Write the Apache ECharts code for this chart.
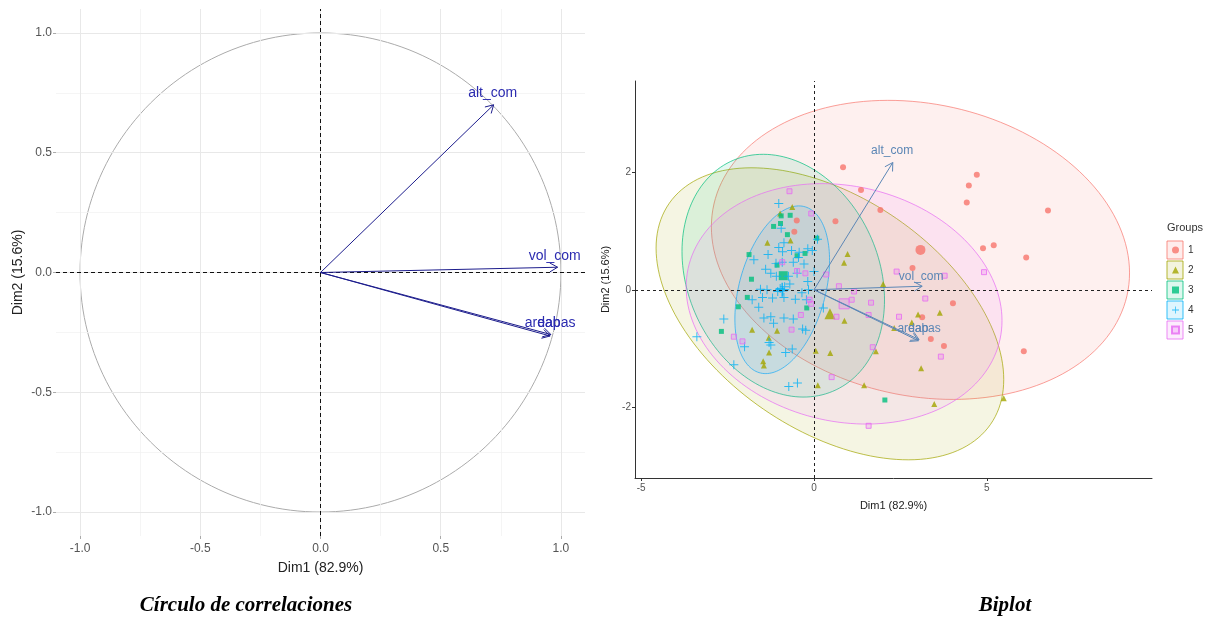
<!DOCTYPE html>
<html>
<head>
<meta charset="utf-8" />
<title>PCA</title>
<script src="https://cdn.jsdelivr.net/npm/echarts@6/dist/echarts.min.js"></script>
<style>
html, body { margin:0; padding:0; background:#fff; }
#main { width:1205px; height:633px; }
</style>
</head>
<body>
<div id="main"></div>
<script type="text/javascript">
// --- circulo de correlaciones
var varNames = ['alt_com', 'vol_com', 'areabas', 'dap'];
var corX = [0.72, 0.986, 0.958, 0.955];
var corY = [0.70, 0.022, -0.259, -0.265];
var corLabelX = [0.716, 0.974, 0.955, 0.950];
var corLabelY = [0.75, 0.069, -0.212, -0.212];
var corTicks = [-1, -0.5, 0, 0.5, 1];
var corMinor = [-0.75, -0.25, 0.25, 0.75];

// --- biplot
var bipX = [2.28, 3.13, 3.04, 3.02];
var bipY = [2.17, 0.06, -0.85, -0.87];
var bipLabelX = [2.26, 3.10, 3.04, 3.02];
var bipLabelY = [2.38, 0.22, -0.67, -0.67];
var bipTicksX = [-5, 0, 5];
var bipTicksY = [-2, 0, 2];

var groups = ['1', '2', '3', '4', '5'];
var g1 = [[0.84,2.09],[1.36,1.70],[1.92,1.36],[0.62,1.17],[-0.50,1.18],[-0.57,0.99],[4.71,1.96],[4.48,1.78],
  [4.42,1.49],[6.77,1.35],[4.89,0.71],[5.20,0.76],[6.14,0.55],[2.85,0.37],[4.02,-0.23],[3.13,-0.47],
  [3.38,-0.84],[3.76,-0.96],[6.07,-1.05]];
var g2 = [[-0.63,1.41],[-0.98,1.30],[-1.35,0.80],[-0.68,0.84],[0.97,0.61],[0.87,0.46],[2.00,0.10],[0.88,-0.53],
  [2.32,-0.65],[2.83,-0.56],[3.01,-0.42],[3.64,-0.39],[-1.79,-0.68],[-1.07,-0.70],[-1.31,-0.82],[-1.30,-1.07],
  [-1.47,-1.22],[-1.45,-1.29],[0.05,-1.04],[0.47,-1.08],[1.79,-1.05],[0.11,-1.63],[1.45,-1.63],[3.10,-1.34],
  [3.48,-1.95],[5.49,-1.85]];
var g3 = [[-0.69,1.27],[-0.95,1.26],[-1.17,1.08],[-0.97,1.13],[-0.77,0.94],[0.08,0.88],[-0.26,0.62],[-0.49,0.58],
  [-1.88,0.60],[-1.07,0.42],[-1.81,0.18],[-1.93,-0.13],[-2.19,-0.29],[-2.68,-0.71],[-0.21,-0.31],[2.05,-1.88]];
var g4 = [[-1.02,1.47],[-0.95,1.05],[-0.87,0.80],[-1.02,0.72],[-0.91,0.65],[-0.65,0.67],[-0.43,0.64],[-0.18,0.70],
  [-0.05,0.67],[-1.33,0.60],[-1.74,0.51],[-0.92,0.47],[-0.60,0.47],[-0.29,0.44],[0.00,0.31],[-1.25,0.28],
  [-1.09,0.23],[-0.74,0.23],[-0.49,0.28],[-0.18,0.14],[-1.55,0.01],[-1.36,0.00],[-0.98,0.02],[-0.90,-0.02],
  [-0.85,0.05],[-1.05,-0.03],[-0.16,0.00],[-1.79,-0.17],[-1.49,-0.13],[-1.20,-0.14],[-0.87,-0.13],[-0.54,-0.16],
  [-0.22,-0.17],[0.27,-0.31],[-1.45,-0.48],[-1.25,-0.46],[-0.87,-0.48],[-0.60,-0.50],[-1.17,-0.57],[-0.33,-0.67],
  [-0.24,-0.69],[-2.01,-0.97],[-1.30,-0.90],[-1.25,-0.94],[-0.82,-1.07],[-0.63,-1.01],[-2.61,-0.50],[-3.39,-0.80],
  [-2.32,-1.28],[-0.73,-1.65],[-0.48,-1.59],[0.10,0.86],[-1.40,0.35],[-0.70,0.10],[-1.10,0.45],[-0.35,-0.05],
  [-1.60,-0.30],[-0.45,0.55]];
var g5 = [[-0.71,1.68],[-0.08,1.30],[-0.92,0.47],[-0.49,0.32],[-0.25,0.28],[0.35,0.26],[0.72,0.06],[1.16,-0.03],
  [1.09,-0.17],[1.65,-0.22],[2.39,0.31],[3.78,0.24],[4.92,0.30],[3.22,-0.15],[2.46,-0.46],[1.58,-0.43],
  [0.65,-0.46],[-0.13,-0.17],[-0.08,-0.24],[-0.38,-0.43],[-0.65,-0.68],[-2.32,-0.80],[-2.07,-0.88],[1.70,-0.98],
  [3.67,-1.14],[0.51,-1.49],[1.58,-2.32]];
var centroids = [[3.08,0.68],[0.46,-0.41],[-0.89,0.24],[-0.92,0.00],[0.87,-0.24]];
// ellipses: half width, half height, tilt (cos of phase)
var ellRx = [6.05, 5.03, 2.93, 1.37, 4.57];
var ellRy = [2.55, 2.49, 2.07, 1.43, 2.05];
var ellTilt = [-0.154, -0.45, -0.20, 0.35, -0.14];

var cols = ['#F8766D', '#A3A500', '#00BF7D', '#00B0F6', '#E76BF3'];
var crossPath = 'path://M4.45,0h1.1v4.45h4.45v1.1h-4.45v4.45h-1.1v-4.45h-4.45v-1.1h4.45z';
var symbols = ['circle', 'triangle', 'rect', crossPath, 'rect'];
var sizes = [6, 6, 5, 9, 5];
var bigSizes = [10, 11, 9, 14, 10];
var pts = [g1, g2, g3, g4, g5];

function rgba(hex, a) {
    var n = parseInt(hex.slice(1), 16);
    return 'rgba(' + (n >> 16) + ',' + ((n >> 8) & 255) + ',' + (n & 255) + ',' + a + ')';
}

var myChart = echarts.init(document.getElementById('main'));

function arrowItem(color) {
    return function (params, api) {
        var p0 = api.coord([0, 0]);
        var p1 = api.coord([api.value(0), api.value(1)]);
        var ang = Math.atan2(p1[1] - p0[1], p1[0] - p0[0]);
        var L = 9, w = Math.PI / 6;
        var h1 = [p1[0] - L * Math.cos(ang - w), p1[1] - L * Math.sin(ang - w)];
        var h2 = [p1[0] - L * Math.cos(ang + w), p1[1] - L * Math.sin(ang + w)];
        return {
            type: 'group',
            children: [
                { type: 'polyline', shape: { points: [p0, p1] }, style: { stroke: color, lineWidth: 1, fill: null } },
                { type: 'polyline', shape: { points: [h1, p1, h2] }, style: { stroke: color, lineWidth: 1, fill: null } }
            ]
        };
    };
}
function textItem(color, size) {
    return function (params, api) {
        var p = api.coord([api.value(0), api.value(1)]);
        return {
            type: 'text', x: p[0], y: p[1],
            style: { text: varNames[params.dataIndex], fill: color, textAlign: 'center', textVerticalAlign: 'middle',
                     font: size + 'px "Liberation Sans", Arial' }
        };
    };
}

var series = [];
// grid lines of the correlation circle
series.push({
    type: 'line', xAxisIndex: 0, yAxisIndex: 0, data: [], silent: true,
    markLine: {
        silent: true, symbol: ['none', 'none'], label: { show: false }, animation: false,
        data: corMinor.map(function (v) { return { xAxis: v, lineStyle: { color: '#f3f3f3', width: 0.8, type: 'solid' } }; })
            .concat(corMinor.map(function (v) { return { yAxis: v, lineStyle: { color: '#f3f3f3', width: 0.8, type: 'solid' } }; }))
            .concat(corTicks.map(function (v) { return { xAxis: v, lineStyle: { color: '#e8e8e8', width: 1, type: 'solid' } }; }))
            .concat(corTicks.map(function (v) { return { yAxis: v, lineStyle: { color: '#e8e8e8', width: 1, type: 'solid' } }; }))
    }
});
// circle
series.push({
    type: 'custom', xAxisIndex: 0, yAxisIndex: 0, data: [[0, 0]], silent: true, z: 3,
    renderItem: function (params, api) {
        var p = [];
        for (var i = 0; i <= 200; i++) {
            var t = i / 200 * Math.PI * 2;
            p.push(api.coord([Math.cos(t), Math.sin(t)]));
        }
        return { type: 'polyline', shape: { points: p }, style: { stroke: '#ababab', lineWidth: 1, fill: null } };
    }
});
// dashed zero lines
series.push({
    type: 'line', xAxisIndex: 0, yAxisIndex: 0, data: [], silent: true, z: 4,
    markLine: {
        silent: true, symbol: ['none', 'none'], label: { show: false }, animation: false,
        lineStyle: { color: '#111', width: 1, type: [4, 3] },
        data: [{ xAxis: 0 }, { yAxis: 0 }]
    }
});
series.push({
    type: 'custom', xAxisIndex: 0, yAxisIndex: 0, z: 5, silent: true,
    data: corX.map(function (x, i) { return [x, corY[i]]; }),
    renderItem: arrowItem('#1c1c8c')
});
series.push({
    type: 'custom', xAxisIndex: 0, yAxisIndex: 0, z: 6, silent: true,
    data: corLabelX.map(function (x, i) { return [x, corLabelY[i]]; }),
    renderItem: textItem('#2b2bb0', 14)
});

// biplot ellipses
series.push({
    type: 'custom', xAxisIndex: 1, yAxisIndex: 1, silent: true, z: 2,
    data: centroids.map(function (c, i) { return [c[0], c[1], ellRx[i], ellRy[i], ellTilt[i], i]; }),
    renderItem: function (params, api) {
        var cx = api.value(0), cy = api.value(1), rx = api.value(2), ry = api.value(3), k = api.value(4);
        var g = api.value(5);
        var s = Math.sqrt(1 - k * k);
        var p = [];
        for (var i = 0; i < 160; i++) {
            var t = i / 160 * Math.PI * 2;
            p.push(api.coord([cx + rx * Math.cos(t), cy + ry * (k * Math.cos(t) + s * Math.sin(t))]));
        }
        return { type: 'polygon', shape: { points: p },
                 style: { fill: rgba(cols[g], 0.11), stroke: rgba(cols[g], 0.7), lineWidth: 1 } };
    }
});
series.push({
    type: 'line', xAxisIndex: 1, yAxisIndex: 1, data: [], silent: true, z: 3,
    markLine: {
        silent: true, symbol: ['none', 'none'], label: { show: false }, animation: false,
        lineStyle: { color: '#222', width: 1, type: [3, 3] },
        data: [{ xAxis: 0 }, { yAxis: 0 }]
    }
});
groups.forEach(function (name, i) {
    var st = i === 4
        ? { color: rgba(cols[i], 0.3), borderColor: cols[i], borderWidth: 1 }
        : { color: cols[i] };
    series.push({
        name: name, type: 'scatter', xAxisIndex: 1, yAxisIndex: 1, z: 4,
        symbol: symbols[i], symbolSize: sizes[i], itemStyle: st, data: pts[i]
    });
    series.push({
        type: 'scatter', xAxisIndex: 1, yAxisIndex: 1, z: 4,
        symbol: symbols[i], symbolSize: bigSizes[i], itemStyle: st, data: [centroids[i]]
    });
});
series.push({
    type: 'custom', xAxisIndex: 1, yAxisIndex: 1, z: 6, silent: true,
    data: bipX.map(function (x, i) { return [x, bipY[i]]; }),
    renderItem: arrowItem('#5b86b5')
});
series.push({
    type: 'custom', xAxisIndex: 1, yAxisIndex: 1, z: 7, silent: true,
    data: bipLabelX.map(function (x, i) { return [x, bipLabelY[i]]; }),
    renderItem: textItem('#5b86b5', 12)
});

var boxes = groups.map(function (g, i) {
    return { type: 'rect', shape: { x: 1167, y: 241 + i * 20, width: 16, height: 18 },
             style: { fill: rgba(cols[i], 0.13), stroke: rgba(cols[i], 0.8), lineWidth: 1 }, z: 1 };
});

myChart.setOption({
    animation: false,
    textStyle: { fontFamily: '"Liberation Sans", Arial, sans-serif' },
    grid: [
        { left: 56, top: 9, width: 529, height: 527 },
        { left: 635, top: 81, width: 517, height: 397 }
    ],
    xAxis: [{
        gridIndex: 0, type: 'value', min: -1.1, max: 1.1,
        axisLine: { show: false, onZero: false },
        axisTick: { show: true, customValues: corTicks, length: 3, lineStyle: { color: '#aaa' } },
        axisLabel: { customValues: corTicks, color: '#555', fontSize: 12, margin: 7,
                     formatter: function (v) { return v.toFixed(1); } },
        splitLine: { show: false },
        name: 'Dim1 (82.9%)', nameLocation: 'middle', nameGap: 25,
        nameTextStyle: { color: '#222', fontSize: 14 }
    }, {
        gridIndex: 1, type: 'value', min: -5.18, max: 9.78,
        axisLine: { show: true, onZero: false, lineStyle: { color: '#333', width: 1 } },
        axisTick: { show: true, customValues: bipTicksX, length: 3, lineStyle: { color: '#333' } },
        axisLabel: { customValues: bipTicksX, color: '#555', fontSize: 10, margin: 5 },
        splitLine: { show: false },
        name: 'Dim1 (82.9%)', nameLocation: 'middle', nameGap: 22,
        nameTextStyle: { color: '#222', fontSize: 11 }
    }],
    yAxis: [{
        gridIndex: 0, type: 'value', min: -1.1, max: 1.1,
        axisLine: { show: false, onZero: false },
        axisTick: { show: true, customValues: corTicks, length: 3, lineStyle: { color: '#aaa' } },
        axisLabel: { customValues: corTicks, color: '#555', fontSize: 12, margin: 4,
                     formatter: function (v) { return v.toFixed(1); } },
        splitLine: { show: false },
        name: 'Dim2 (15.6%)', nameLocation: 'middle', nameGap: 31,
        nameTextStyle: { color: '#222', fontSize: 14 }
    }, {
        gridIndex: 1, type: 'value', min: -3.21, max: 3.56,
        axisLine: { show: true, onZero: false, lineStyle: { color: '#333', width: 1 } },
        axisTick: { show: true, customValues: bipTicksY, length: 3, lineStyle: { color: '#333' } },
        axisLabel: { customValues: bipTicksY, color: '#555', fontSize: 10, margin: 4 },
        splitLine: { show: false },
        name: 'Dim2 (15.6%)', nameLocation: 'middle', nameGap: 24,
        nameTextStyle: { color: '#222', fontSize: 11 }
    }],
    legend: {
        orient: 'vertical', left: 1166, top: 240, itemWidth: 7, itemHeight: 7, itemGap: 10,
        data: groups, selectedMode: false,
        textStyle: { fontSize: 10, color: '#333', padding: [0, 0, 0, 4] }
    },
    graphic: boxes.concat([
        { type: 'text', x: 1167, y: 228, style: { text: 'Groups', font: '11px "Liberation Sans", Arial', fill: '#333', textVerticalAlign: 'middle' } },
        { type: 'text', x: 246, y: 606, style: { text: 'Círculo de correlaciones', font: 'italic bold 21px "Liberation Serif", serif', fill: '#000', textAlign: 'center', textVerticalAlign: 'middle' } },
        { type: 'text', x: 1005, y: 606, style: { text: 'Biplot', font: 'italic bold 21px "Liberation Serif", serif', fill: '#000', textAlign: 'center', textVerticalAlign: 'middle' } }
    ]),
    series: series
});
</script>
</body>
</html>
